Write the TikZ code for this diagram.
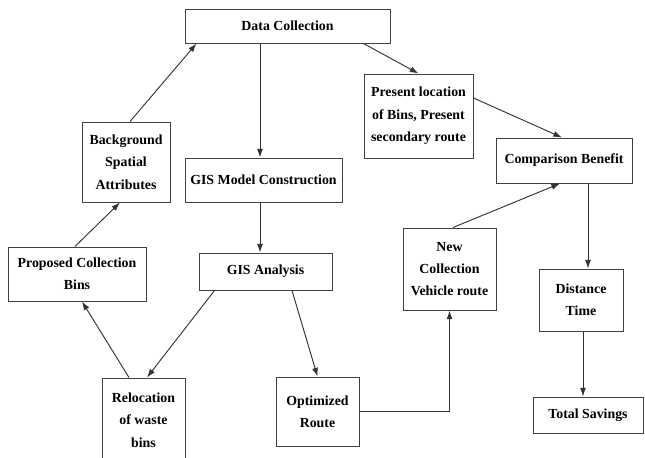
\documentclass[tikz,border=0pt]{standalone}
\usepackage{fontspec}
\setmainfont{Liberation Serif}
\usepackage{xcolor}
\usetikzlibrary{arrows.meta, calc}

\begin{document}
\begin{tikzpicture}[
    x=0.75pt, y=-0.75pt,
    >={Latex[length=6.5pt,width=4.5pt]},
    box/.style={draw=black!75, line width=0.75pt, align=center, inner sep=2pt,
        font=\bfseries\fontsize{10.4}{16.8}\selectfont},
    arr/.style={->, draw=black!80, line width=0.7pt}
]

\useasboundingbox (0,0) rectangle (645,457);
\clip (0,0) rectangle (645,457);

\node[box, minimum width=153.75pt, minimum height=25.5pt] (datacoll) at (287.5,26) {Data Collection};
\node[box, minimum width=66pt, minimum height=60pt] (bgattr) at (126,162) {Background\\Spatial\\Attributes};
\node[box, minimum width=117.75pt, minimum height=33pt] (gismodel) at (263.5,180) {GIS Model Construction};
\node[box, minimum width=81.75pt, minimum height=63pt] (present) at (418.5,116) {Present location\\of Bins, Present\\secondary route};
\node[box, minimum width=102pt, minimum height=33.75pt] (compare) at (564,160.5) {Comparison Benefit};
\node[box, minimum width=103.5pt, minimum height=40.5pt] (proposed) at (77,274) {Proposed Collection\\Bins};
\node[box, minimum width=99.75pt, minimum height=27.75pt] (gisanal) at (265.5,271.5) {GIS Analysis};
\node[box, minimum width=62.25pt, minimum height=63pt] (relocate) at (143.5,420) {Relocation\\of waste\\bins};
\node[box, minimum width=62.25pt, minimum height=51.75pt] (optim) at (317.5,411.5) {Optimized\\Route};
\node[box, minimum width=69.75pt, minimum height=61.5pt] (newcoll) at (449.5,269) {New\\Collection\\Vehicle route};
\node[box, minimum width=63pt, minimum height=46.5pt] (disttime) at (581,300) {Distance\\Time};
\node[box, minimum width=82.5pt, minimum height=27pt] (totsav) at (588,415) {Total Savings};

% arrow ends off the anchors
\coordinate (dcout) at ($(datacoll.south)+(-27.5,0)$);
\coordinate (gmout) at ($(gismodel.south)+(-3.5,0)$);
\coordinate (cbout) at ($(compare.south)+(24,0)$);
\coordinate (dtout) at ($(disttime.south)+(2,0)$);

% left branch
\draw[arr] (dcout) -- (dcout |- gismodel.north);
\draw[arr] (gmout) -- (gmout |- gisanal.north);
\draw[arr] ($(gisanal.south west)+(16,0)$) -- ($(relocate.north)+(3.5,0)$);
\draw[arr] ($(relocate.north)+(-14.5,0)$) -- ($(proposed.south)+(5,0)$);
\draw[arr] ($(proposed.north)+(-2,0)$) -- ($(bgattr.south)+(-6,0)$);
\draw[arr] ($(bgattr.north)+(4,0)$) -- ($(datacoll.south west)+(12,0)$);

% right branch
\draw[arr] ($(gisanal.south)+(26.5,0)$) -- (optim.north);
\draw[arr] (optim.east) -| (newcoll.south);
\draw[arr] ($(newcoll.north)+(3.5,0)$) -- ($(compare.south)+(-4,0)$);
\draw[arr] ($(datacoll.south east)+(-27,0)$) -- (present.north);
\draw[arr] ($(present.east)+(0,-18)$) -- ($(compare.north)+(-2,0)$);
\draw[arr] (cbout) -- (cbout |- disttime.north);
\draw[arr] (dtout) -- (dtout |- totsav.north);

\end{tikzpicture}
\end{document}
